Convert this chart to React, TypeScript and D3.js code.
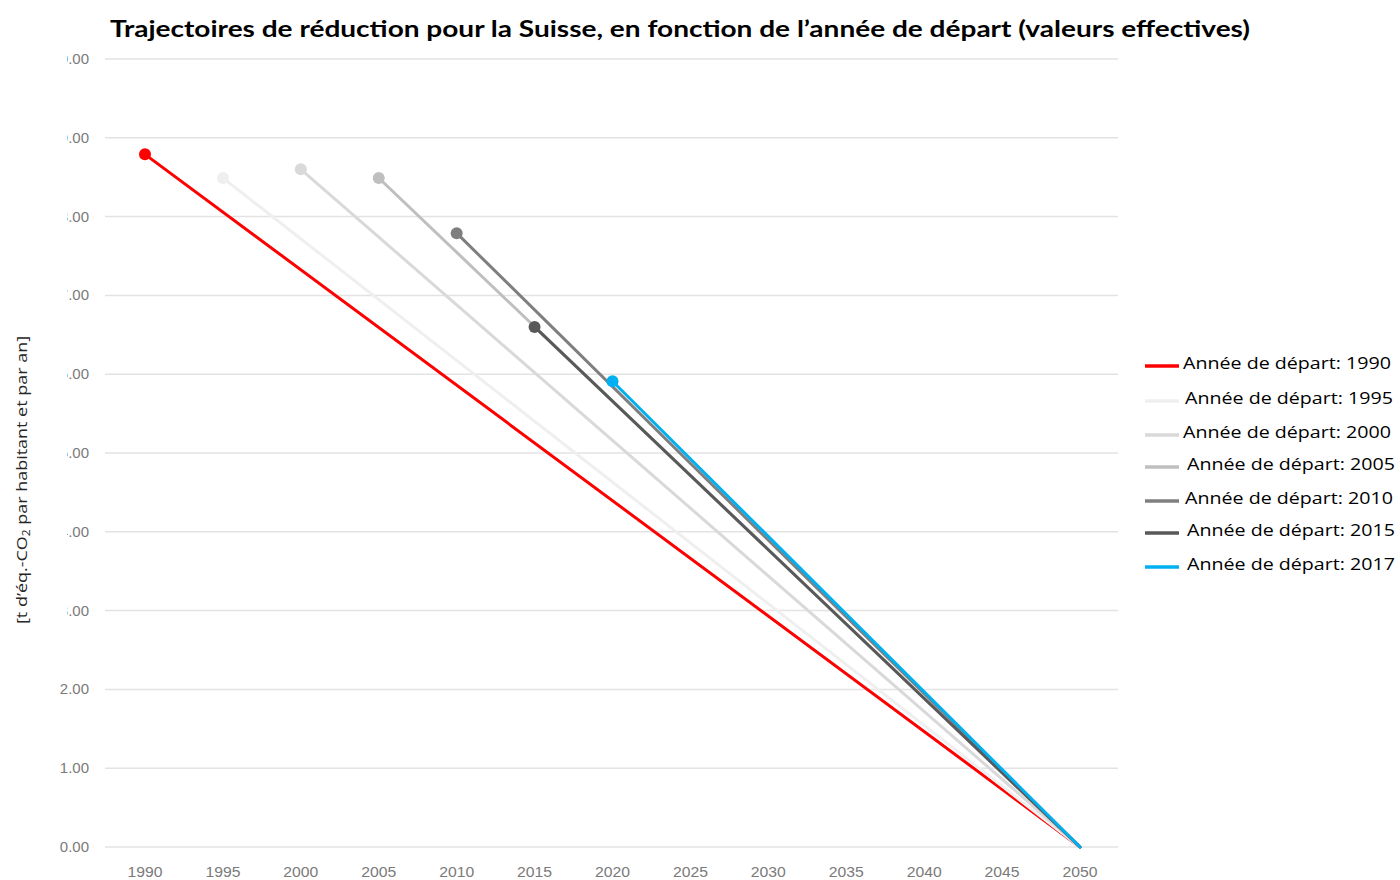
import React from "react";
import * as d3 from "d3";

const titleText = "Trajectoires de réduction pour la Suisse, en fonction de l’année de départ (valeurs effectives)";
const seriesNames = ["Année de départ: 1990", "Année de départ: 1995", "Année de départ: 2000", "Année de départ: 2005", "Année de départ: 2010", "Année de départ: 2015", "Année de départ: 2017"];
const startYears = [1990, 1995, 2000, 2005, 2010, 2015, 2020];
const startValues = [8.79, 8.49, 8.6, 8.49, 7.79, 6.6, 5.91];
const endYear = 2050;
const endValue = 0;
const seriesColors = ["#ff0000", "#efefef", "#d9d9d9", "#bfbfbf", "#7f7f7f", "#595959", "#00b0f0"];
const xTicks = [1990, 1995, 2000, 2005, 2010, 2015, 2020, 2025, 2030, 2035, 2040, 2045, 2050];
const yTicks = [0, 1, 2, 3, 4, 5, 6, 7, 8, 9, 10];

export default function App() {
  const W = 1400, H = 880;
  const x = d3.scaleLinear().domain([1990, 2050]).range([145, 1080]);
  const y = d3.scaleLinear().domain([0, 10]).range([847, 59]);
  const line = d3.line<[number, number]>().x((d) => x(d[0])).y((d) => y(d[1]));
  const legendY = [364, 399, 433, 465, 499, 531, 565];
  const legendTextX = [1183, 1185, 1183, 1187, 1185, 1187, 1187];
  const tickFont = "'Liberation Sans', Arial, sans-serif";

  return (
    <div style={{ position: "absolute", left: 0, top: 0 }}>
      <svg width={W} height={H} style={{ display: "block", background: "#fff" }}>
        <defs>
          <clipPath id="ylabclip">
            <rect x={67} y={0} width={100} height={640} />
          </clipPath>
        </defs>
        <text x={110} y={37} fontFamily="Lato, 'Open Sans', sans-serif" fontWeight="bold" fontSize={23} fill="#000" textLength={1140} lengthAdjust="spacingAndGlyphs">
          {titleText}
        </text>
        {yTicks.map((t) => (
          <line key={"g" + t} x1={105} x2={1118} y1={y(t)} y2={y(t)} stroke="#e3e3e3" strokeWidth={1.5} />
        ))}
        {yTicks.map((t) => (
          <text key={"yl" + t} x={89} y={y(t) + 5} textAnchor="end" fontFamily={tickFont} fontSize={15} fill="#7a7a7a" clipPath={t >= 3 ? "url(#ylabclip)" : undefined}>
            {t.toFixed(2)}
          </text>
        ))}
        {xTicks.map((t) => (
          <text key={"xl" + t} x={x(t)} y={877} textAnchor="middle" fontFamily={tickFont} fontSize={15} fill="#7a7a7a" textLength={35} lengthAdjust="spacingAndGlyphs">
            {t}
          </text>
        ))}
        <text transform="translate(27,480) rotate(-90)" textAnchor="middle" fontFamily="'Open Sans', sans-serif" fontSize={15} fill="#262626" textLength={288} lengthAdjust="spacingAndGlyphs">
          [t d’éq.-CO<tspan fontSize={10} dy={3}>2</tspan><tspan dy={-3}> par habitant et par an]</tspan>
        </text>
        {seriesNames.map((n, i) => {
          const pts: [number, number][] = [[startYears[i], startValues[i]], [endYear, endValue]];
          return (
            <g key={n}>
              <path d={line(pts) || ""} fill="none" stroke={seriesColors[i]} strokeWidth={3} strokeLinecap="round" />
              <circle cx={x(startYears[i])} cy={y(startValues[i])} r={6} fill={seriesColors[i]} />
            </g>
          );
        })}
        {seriesNames.map((n, i) => (
          <g key={"lg" + n}>
            <line x1={1145} x2={1179} y1={legendY[i] + 2} y2={legendY[i] + 2} stroke={seriesColors[i]} strokeWidth={3.5} />
            <text x={legendTextX[i]} y={legendY[i] + 5} fontFamily="'Open Sans', sans-serif" fontSize={16.5} fill="#000" textLength={208} lengthAdjust="spacingAndGlyphs">
              {n}
            </text>
          </g>
        ))}
      </svg>
    </div>
  );
}
